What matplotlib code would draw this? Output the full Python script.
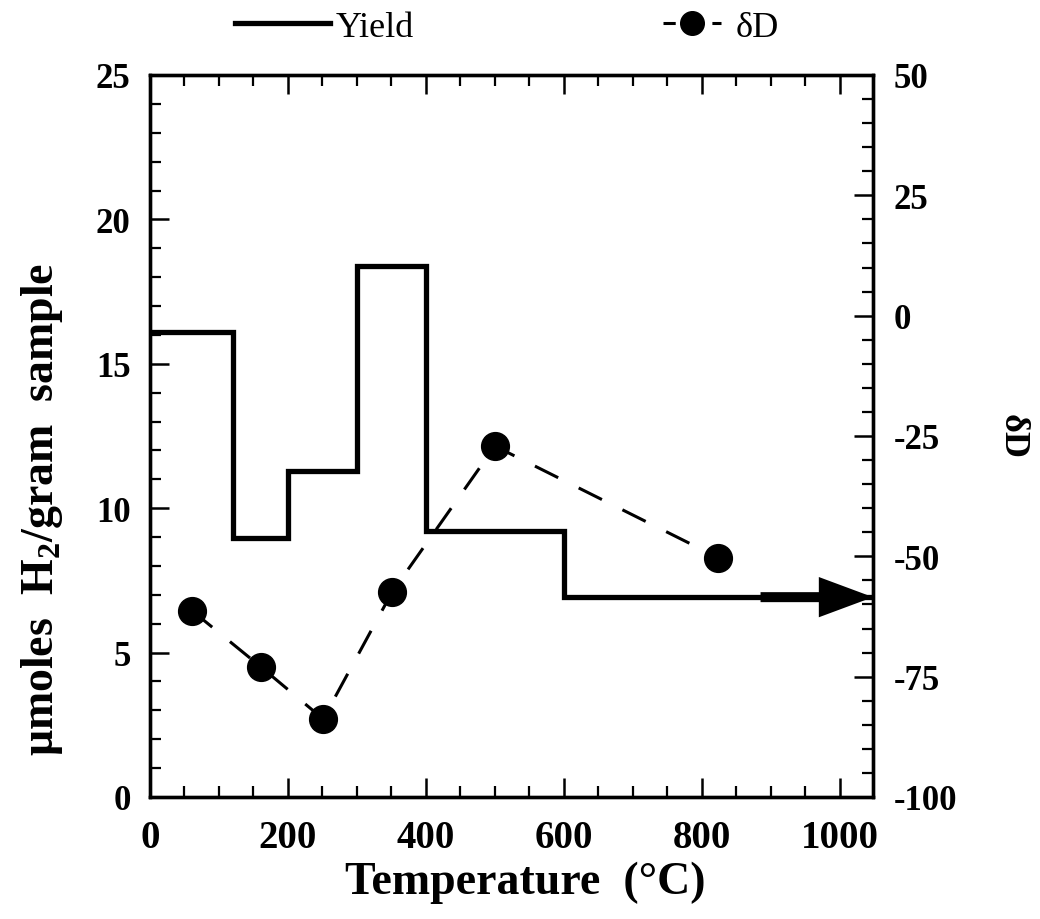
import matplotlib
matplotlib.use("Agg")
import matplotlib.pyplot as plt
from matplotlib.lines import Line2D
from matplotlib.patches import FancyArrowPatch
from matplotlib.ticker import MultipleLocator

# ---- data ----
step_edges = [0, 120, 200, 300, 400, 600, 1048]
yield_vals = [16.1, 8.97, 11.28, 18.4, 9.2, 6.92]
dD_temp = [61, 161, 251, 351, 500, 824]
dD_vals = [-61.3, -73.0, -83.8, -57.4, -27.1, -50.3]
arrow_start = 885
x_ticks = [0, 200, 400, 600, 800, 1000]
y_left_ticks = [0, 5, 10, 15, 20, 25]
y_right_ticks = [-100, -75, -50, -25, 0, 25, 50]

plt.rcParams['font.family'] = ['Liberation Serif', 'DejaVu Serif']
plt.rcParams['mathtext.fontset'] = 'custom'
plt.rcParams['mathtext.rm'] = 'Liberation Serif'
plt.rcParams['mathtext.bf'] = 'Liberation Serif:bold'

fig = plt.figure(figsize=(10.4, 9.2), dpi=100)
ax = fig.add_axes([150/1040, 1-798/920, 723/1040, 722/920])
ax2 = ax.twinx()

# yield steps
st = ax.stairs(yield_vals, step_edges, baseline=None, color='black', linewidth=3.8)
st.set_joinstyle('miter')
ax.set_xlim(0, 1048)
ax.set_ylim(0, 25)

# arrow at the end of the last step
arr = FancyArrowPatch((arrow_start, yield_vals[-1]), (step_edges[-1], yield_vals[-1]),
                      arrowstyle='simple,head_length=1.95,head_width=1.45,tail_width=0.36',
                      mutation_scale=20, color='black', linewidth=0,
                      shrinkA=0, shrinkB=0, clip_on=False, zorder=5)
ax.add_patch(arr)

# delta D
ax2.plot(dD_temp, dD_vals, color='black', linewidth=2.2, dashes=(8.5, 7.5),
         marker='o', markersize=20, zorder=4)
ax2.set_ylim(-100, 50)

# ticks
tick_font = dict(fontsize=25, fontweight='bold')
ax.set_xticks(x_ticks)
ax.set_xticklabels([str(t) for t in x_ticks], fontsize=28, fontweight='bold')
ax.xaxis.set_minor_locator(MultipleLocator(50))
ax.set_yticks(y_left_ticks)
ax.set_yticklabels([str(t) for t in y_left_ticks], **tick_font)
ax.yaxis.set_minor_locator(MultipleLocator(1))
ax2.set_yticks(y_right_ticks)
ax2.set_yticklabels([str(t) for t in y_right_ticks], **tick_font)
ax2.yaxis.set_minor_locator(MultipleLocator(5))

ax.tick_params(axis='x', which='both', direction='in', top=True, bottom=True, pad=16)
ax.tick_params(axis='y', which='both', direction='in', left=True, right=False, pad=14)
ax2.tick_params(axis='y', which='both', direction='in', right=True, pad=15)
for a in (ax, ax2):
    a.tick_params(which='major', length=14, width=1.8)
    a.tick_params(which='minor', length=8, width=1.6)
    for s in a.spines.values():
        s.set_linewidth(2.4)

ax.set_xlabel('Temperature  (°C)', fontsize=33, fontweight='bold')
ax.xaxis.set_label_coords(0.519, -0.088)
ax.set_ylabel(r'μmoles  H$_\mathbf{2}$/gram  sample', fontsize=33, fontweight='bold')
ax.yaxis.set_label_coords(-0.118, 0.40)
ax2.set_ylabel('δD', fontsize=26, fontweight='bold', rotation=-90)
ax2.yaxis.set_label_coords(1.215, 0.50)

# legends
h1 = Line2D([], [], color='black', linewidth=3.8)
fig.legend([h1], ['Yield'], loc='center left', bbox_to_anchor=(235/1040, 1-28/920),
           frameon=False, fontsize=26, handlelength=2.64, handletextpad=0.15,
           borderpad=0, borderaxespad=0)
h2 = Line2D([], [], color='black', linewidth=2.2, dashes=(4, 4), marker='o', markersize=17)
fig.legend([h2], ['δD'], loc='center left', bbox_to_anchor=(663/1040, 1-28/920),
           frameon=False, fontsize=26, handlelength=1.6, handletextpad=0.4,
           borderpad=0, borderaxespad=0)

fig.savefig('out.png', dpi=100)
